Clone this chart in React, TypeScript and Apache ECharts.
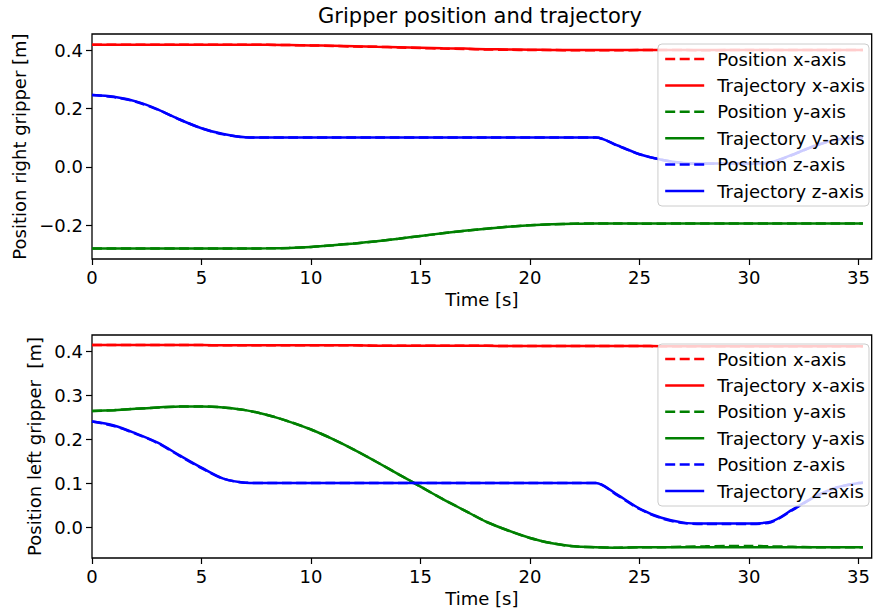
import React, { useEffect, useRef } from 'react';
import * as echarts from 'echarts';

// Time samples [s]
const time = [0, 1, 2, 3, 4, 5, 6, 7, 8, 9, 10, 11, 12, 13, 14, 15, 16, 17, 18, 19, 20, 21, 22, 23, 24, 25, 26, 27, 28, 29, 30, 31, 32, 33, 34, 35, 35.2];

// Right gripper
const rightPosX = [0.418, 0.418, 0.418, 0.418, 0.418, 0.418, 0.418, 0.418, 0.418, 0.417, 0.416, 0.414, 0.412, 0.411, 0.409, 0.407, 0.405, 0.404, 0.402, 0.401, 0.400, 0.400, 0.399, 0.399, 0.399, 0.400, 0.400, 0.400, 0.399, 0.400, 0.400, 0.400, 0.400, 0.400, 0.400, 0.400, 0.400];
const rightTrajX = [0.418, 0.418, 0.418, 0.418, 0.418, 0.418, 0.418, 0.418, 0.418, 0.417, 0.416, 0.415, 0.413, 0.411, 0.410, 0.408, 0.406, 0.405, 0.403, 0.402, 0.401, 0.4005, 0.400, 0.400, 0.400, 0.400, 0.400, 0.400, 0.400, 0.400, 0.400, 0.400, 0.400, 0.400, 0.400, 0.400, 0.400];
const rightPosY = [-0.280, -0.280, -0.280, -0.280, -0.280, -0.280, -0.280, -0.280, -0.2795, -0.278, -0.2745, -0.269, -0.2625, -0.255, -0.2465, -0.237, -0.228, -0.2195, -0.212, -0.2055, -0.2005, -0.197, -0.195, -0.194, -0.194, -0.195, -0.195, -0.194, -0.194, -0.194, -0.194, -0.194, -0.194, -0.194, -0.194, -0.194, -0.194];
const rightTrajY = [-0.280, -0.280, -0.280, -0.280, -0.280, -0.280, -0.280, -0.280, -0.2795, -0.278, -0.2745, -0.269, -0.2625, -0.255, -0.2465, -0.237, -0.228, -0.2195, -0.212, -0.2055, -0.2005, -0.197, -0.195, -0.194, -0.194, -0.194, -0.194, -0.194, -0.194, -0.194, -0.194, -0.194, -0.194, -0.194, -0.194, -0.194, -0.194];
const rightPosZ = [0.246, 0.239, 0.223, 0.196, 0.162, 0.132, 0.111, 0.101, 0.100, 0.100, 0.100, 0.100, 0.100, 0.100, 0.100, 0.100, 0.100, 0.100, 0.100, 0.100, 0.100, 0.100, 0.100, 0.100, 0.072, 0.043, 0.024, 0.012, 0.010, 0.010, 0.010, 0.015, 0.041, 0.071, 0.093, 0.100, 0.100];
const rightTrajZ = [0.246, 0.240, 0.224, 0.197, 0.162, 0.132, 0.112, 0.101, 0.100, 0.100, 0.100, 0.100, 0.100, 0.100, 0.100, 0.100, 0.100, 0.100, 0.100, 0.100, 0.100, 0.100, 0.100, 0.100, 0.073, 0.043, 0.024, 0.013, 0.011, 0.011, 0.011, 0.016, 0.042, 0.072, 0.093, 0.100, 0.100];

// Left gripper
const leftPosX = [0.414, 0.414, 0.414, 0.414, 0.414, 0.414, 0.4135, 0.4135, 0.4135, 0.4135, 0.4135, 0.4135, 0.4135, 0.4125, 0.4125, 0.4125, 0.4125, 0.4125, 0.4125, 0.412, 0.412, 0.412, 0.412, 0.412, 0.412, 0.412, 0.4115, 0.4115, 0.4115, 0.4115, 0.4115, 0.4115, 0.4115, 0.4115, 0.4115, 0.4115, 0.4115];
const leftTrajX = [0.414, 0.414, 0.414, 0.414, 0.414, 0.414, 0.4135, 0.4135, 0.4135, 0.4135, 0.4135, 0.4135, 0.4135, 0.4125, 0.4125, 0.4125, 0.4125, 0.4125, 0.4125, 0.412, 0.412, 0.412, 0.412, 0.412, 0.412, 0.412, 0.4115, 0.4115, 0.4115, 0.4115, 0.4115, 0.4115, 0.4115, 0.4115, 0.4115, 0.4115, 0.4115];
const leftPosY = [0.264, 0.266, 0.269, 0.272, 0.274, 0.2745, 0.272, 0.266, 0.255, 0.240, 0.222, 0.200, 0.175, 0.148, 0.120, 0.092, 0.064, 0.038, 0.012, -0.008, -0.025, -0.037, -0.044, -0.046, -0.047, -0.046, -0.046, -0.045, -0.044, -0.043, -0.043, -0.044, -0.045, -0.046, -0.046, -0.046, -0.046];
const leftTrajY = [0.264, 0.266, 0.269, 0.272, 0.274, 0.2745, 0.272, 0.266, 0.255, 0.240, 0.222, 0.200, 0.175, 0.148, 0.120, 0.092, 0.064, 0.038, 0.012, -0.008, -0.025, -0.037, -0.044, -0.046, -0.047, -0.046, -0.046, -0.046, -0.046, -0.046, -0.046, -0.046, -0.046, -0.046, -0.046, -0.046, -0.046];
const leftPosZ = [0.240, 0.230, 0.212, 0.191, 0.162, 0.134, 0.110, 0.101, 0.100, 0.100, 0.100, 0.100, 0.100, 0.100, 0.100, 0.100, 0.100, 0.100, 0.100, 0.100, 0.100, 0.100, 0.100, 0.100, 0.072, 0.041, 0.020, 0.009, 0.007, 0.007, 0.007, 0.011, 0.039, 0.068, 0.090, 0.100, 0.101];
const leftTrajZ = [0.240, 0.231, 0.213, 0.192, 0.163, 0.135, 0.110, 0.101, 0.100, 0.100, 0.100, 0.100, 0.100, 0.100, 0.100, 0.100, 0.100, 0.100, 0.100, 0.100, 0.100, 0.100, 0.100, 0.100, 0.073, 0.042, 0.021, 0.010, 0.008, 0.008, 0.008, 0.012, 0.040, 0.069, 0.090, 0.100, 0.101];

const seriesNames = ['Position x-axis', 'Trajectory x-axis', 'Position y-axis', 'Trajectory y-axis', 'Position z-axis', 'Trajectory z-axis'];
const seriesColors = ['#ff0000', '#ff0000', '#008000', '#008000', '#0000ff', '#0000ff'];
const rightData = [rightPosX, rightTrajX, rightPosY, rightTrajY, rightPosZ, rightTrajZ];
const leftData = [leftPosX, leftTrajX, leftPosY, leftTrajY, leftPosZ, leftTrajZ];

const xTicks = [0, 5, 10, 15, 20, 25, 30, 35];
const rightYTicks = [-0.2, 0.0, 0.2, 0.4];
const leftYTicks = [0.0, 0.1, 0.2, 0.3, 0.4];

const FONT = 'DejaVu Sans';
const FS = 18;
const fmtY = (v: number) => (v < 0 ? '\u2212' : '') + Math.abs(v).toFixed(1);

export default function App() {
  const ref = useRef<HTMLDivElement>(null);
  useEffect(() => {
    if (!ref.current) return;
    const chart = echarts.init(ref.current, undefined, { renderer: 'svg' });

    const mkX = (gridIndex: number) => ({
      type: 'value',
      gridIndex,
      min: 0,
      max: 35.6,
      name: 'Time [s]',
      nameLocation: 'middle',
      nameGap: 31,
      nameTextStyle: { fontFamily: FONT, fontSize: FS, color: '#000' },
      axisLine: { show: false, onZero: false },
      axisTick: { show: true, inside: false, length: 6, customValues: xTicks, lineStyle: { color: '#000', width: 1.2 } },
      axisLabel: { customValues: xTicks, margin: 9, fontFamily: FONT, fontSize: FS, color: '#000', formatter: (v: number) => String(v) },
      splitLine: { show: false },
    });
    const mkY = (gridIndex: number, min: number, max: number, ticks: number[], name: string, gap: number) => ({
      type: 'value',
      gridIndex,
      min,
      max,
      name,
      nameLocation: 'middle',
      nameGap: gap,
      nameTextStyle: { fontFamily: FONT, fontSize: FS, color: '#000' },
      axisLine: { show: false, onZero: false },
      axisTick: { show: true, inside: false, length: 6, customValues: ticks, lineStyle: { color: '#000', width: 1.2 } },
      axisLabel: { customValues: ticks, margin: 9, fontFamily: FONT, fontSize: FS, color: '#000', formatter: fmtY },
      splitLine: { show: false },
    });

    const series: any[] = [];
    [rightData, leftData].forEach((group, gi) => {
      group.forEach((arr, k) => {
        series.push({
          type: 'line',
          name: seriesNames[k],
          xAxisIndex: gi,
          yAxisIndex: gi,
          data: time.map((t, i) => [t, arr[i]]),
          symbol: 'none',
          smooth: 0.3,
          lineStyle: { color: seriesColors[k], width: 2.5, type: k % 2 === 0 ? [10, 4.5] : 'solid' },
          itemStyle: { color: seriesColors[k] },
          z: 2,
          z2: k,
        });
      });
    });

    const mkLegend = (top: number) => ({
      orient: 'vertical',
      right: 4,
      top,
      z: 20,
      data: seriesNames,
      itemWidth: 39,
      itemHeight: 18,
      itemGap: 8.4,
      padding: [6, 4, 6, 6],
      backgroundColor: 'rgba(255,255,255,0.8)',
      borderColor: '#cccccc',
      borderWidth: 1,
      borderRadius: 4,
      selectedMode: false,
      itemStyle: { opacity: 0, borderWidth: 0 },
      lineStyle: { width: 2.5 },
      textStyle: { fontFamily: FONT, fontSize: FS, color: '#000', padding: [0, 0, 0, 8] },
    });

    chart.setOption({
      animation: false,
      backgroundColor: '#ffffff',
      graphic: [
        {
          type: 'text',
          x: 480,
          y: 16,
          style: { text: 'Gripper position and trajectory', fontFamily: FONT, fontSize: 21, fill: '#000', align: 'center', verticalAlign: 'middle' },
        },
      ],
      grid: [
        { left: 92, right: 1, top: 34, height: 225, show: true, borderColor: '#000', borderWidth: 1.3, backgroundColor: 'transparent' },
        { left: 92, right: 1, top: 335, height: 223, show: true, borderColor: '#000', borderWidth: 1.3, backgroundColor: 'transparent' },
      ],
      xAxis: [mkX(0), mkX(1)],
      yAxis: [
        mkY(0, -0.316, 0.455, rightYTicks, 'Position right gripper [m]', 63),
        mkY(1, -0.0705, 0.437, leftYTicks, 'Position left gripper  [m]', 49),
      ],
      legend: [mkLegend(44), mkLegend(344)],
      series,
    });
    return () => chart.dispose();
  }, []);
  return <div ref={ref} style={{ position: 'fixed', left: 0, top: 0, width: 873, height: 616 }} />;
}
